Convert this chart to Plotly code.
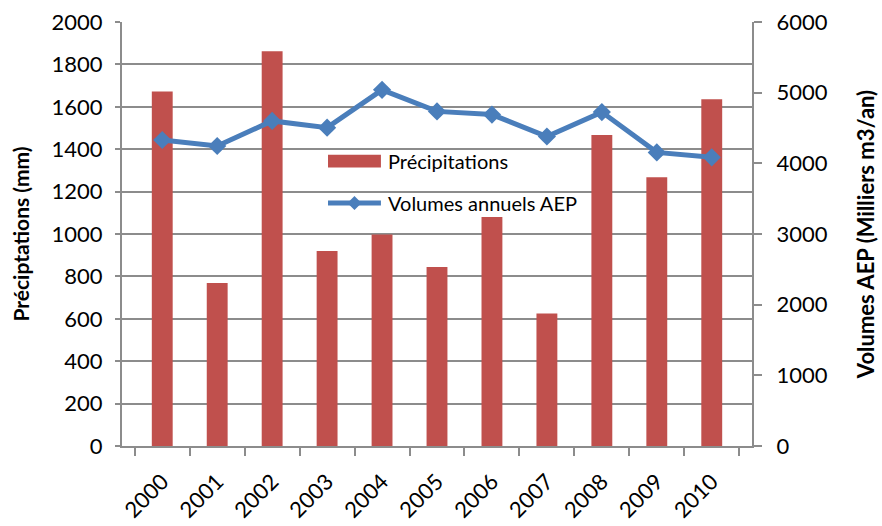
import plotly.graph_objects as go

years = ["2000", "2001", "2002", "2003", "2004", "2005", "2006", "2007", "2008", "2009", "2010"]
precipitations = [1672, 769, 1862, 920, 998, 844, 1080, 625, 1467, 1268, 1636]
volumes_aep = [4330, 4245, 4600, 4505, 5040, 4735, 4690, 4380, 4725, 4155, 4085]

FONT = "Lato, 'Open Sans', sans-serif"
GRID = "#8c8c8c"
RED = "#C0504D"
BLUE = "#4A7EBB"

fig = go.Figure()

fig.add_trace(go.Bar(
    x=years, y=precipitations, name="Précipitations",
    marker=dict(color=RED, line=dict(width=0)),
    showlegend=False,
))

fig.add_trace(go.Scatter(
    x=years, y=volumes_aep, name="Volumes annuels AEP", yaxis="y2",
    mode="lines+markers",
    line=dict(color=BLUE, width=5),
    marker=dict(symbol="diamond", size=14, color=BLUE),
    showlegend=False,
))

# Legend drawn inside the plot area (paper coordinates)
leg_x0, leg_x1, leg_text_x = 0.327, 0.411, 0.419
row1_y, row2_y = 0.672, 0.573
shapes = [
    dict(type="rect", xref="paper", yref="paper",
         x0=leg_x0, x1=leg_x1, y0=row1_y - 0.015, y1=row1_y + 0.015,
         fillcolor=RED, line=dict(width=0)),
    dict(type="line", xref="paper", yref="paper",
         x0=leg_x0, x1=leg_x1, y0=row2_y, y1=row2_y,
         line=dict(color=BLUE, width=5)),
    dict(type="path", xref="paper", yref="paper",
         xsizemode="pixel", ysizemode="pixel",
         xanchor=(leg_x0 + leg_x1) / 2, yanchor=row2_y,
         path="M-7,0 L0,7 L7,0 L0,-7 Z",
         fillcolor=BLUE, line=dict(width=0)),
]
annotations = [
    dict(text="Précipitations", xref="paper", yref="paper",
         x=leg_text_x, y=row1_y, xanchor="left", yanchor="middle",
         showarrow=False, font=dict(size=20)),
    dict(text="Volumes annuels AEP", xref="paper", yref="paper",
         x=leg_text_x, y=row2_y, xanchor="left", yanchor="middle",
         showarrow=False, font=dict(size=20)),
]

fig.update_layout(
    width=882, height=526,
    margin=dict(l=122, r=130, t=22, b=80),
    paper_bgcolor="white", plot_bgcolor="white",
    font=dict(family=FONT, size=22, color="#000000"),
    bargap=0.62,
    showlegend=False,
    shapes=shapes,
    annotations=annotations,
    xaxis=dict(
        type="category", tickangle=-45, tickson="boundaries",
        ticks="outside", ticklen=8, tickcolor=GRID, tickwidth=2,
        showline=True, linecolor=GRID, linewidth=2,
        showgrid=False, tickfont=dict(size=22),
        ticklabelstandoff=12, automargin=False,
    ),
    yaxis=dict(
        range=[0, 2000], dtick=200, tick0=0,
        ticks="outside", ticklen=5, tickcolor=GRID, tickwidth=2,
        showline=True, linecolor=GRID, linewidth=2,
        showgrid=True, gridcolor=GRID, gridwidth=2,
        zeroline=False, automargin=False,
        title=dict(text="<b>Préciptations (mm)</b>", font=dict(size=21), standoff=16),
        tickfont=dict(size=22),
        ticklabelstandoff=8,
    ),
    yaxis2=dict(
        range=[0, 6000], dtick=1000, tick0=0,
        overlaying="y", side="right",
        ticks="outside", ticklen=8, tickcolor=GRID, tickwidth=2,
        showline=True, linecolor=GRID, linewidth=2,
        showgrid=False, zeroline=False, automargin=False,
        title=dict(text="<b>Volumes AEP (Milliers m3/an)</b>", font=dict(size=22), standoff=32),
        tickfont=dict(size=22),
        ticklabelstandoff=10,
    ),
)

fig.write_html("out.html")
